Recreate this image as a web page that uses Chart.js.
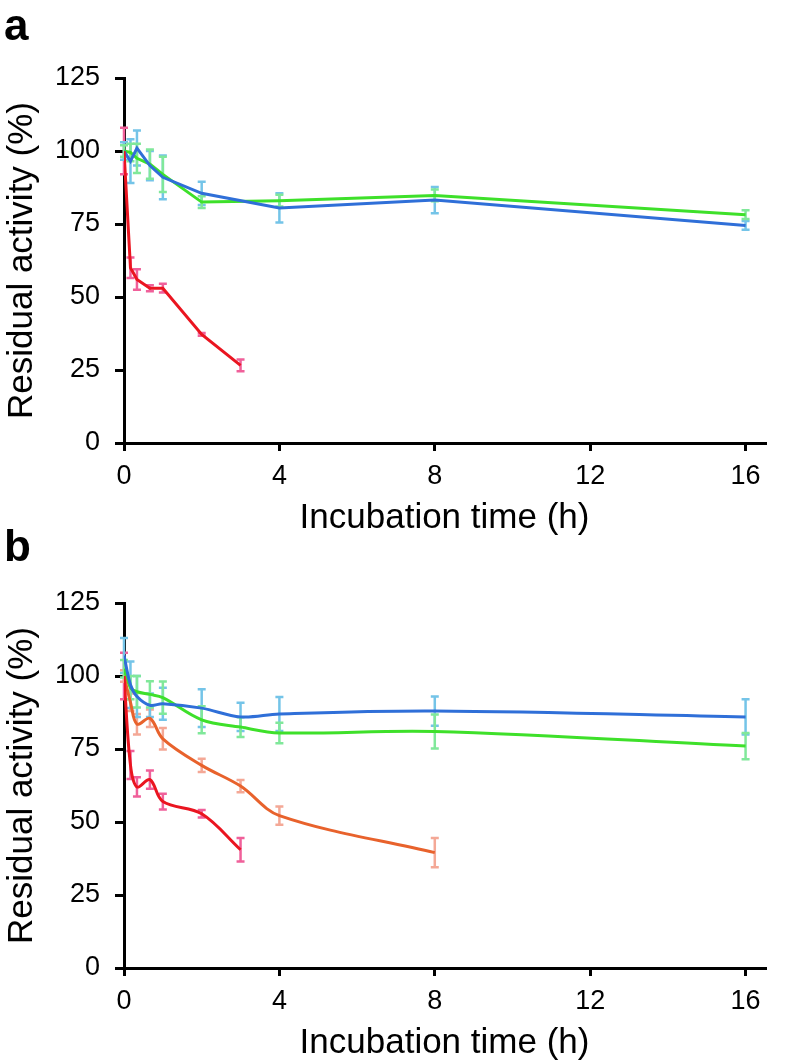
<!DOCTYPE html>
<html>
<head>
<meta charset="utf-8">
<script src="https://cdn.jsdelivr.net/npm/chart.js@4"></script>
<style>
  body { margin: 0; background: #fff; }
  #wrap { position: relative; width: 796px; height: 1064px; background: #fff; }
  .panel { position: absolute; left: 0; }
  .tag { position: absolute; left: 4px; font: bold 44px "Liberation Sans", Arial, sans-serif; color: #000; line-height: 1; }
</style>
</head>
<body>
<div id="wrap">
  <div class="panel" style="top:0"><canvas id="chartA" width="796" height="539"></canvas></div>
  <div class="panel" style="top:539px"><canvas id="chartB" width="796" height="525"></canvas></div>
  <div class="tag" style="top:3px">a</div>
  <div class="tag" style="top:524px">b</div>
</div>
<script>
// time points (h)
const timesA = [0, 1/6, 1/3, 2/3, 1, 2, 4, 8, 16];
const timesRed = [0, 1/6, 1/3, 2/3, 1, 2, 3];
const timesB = [0, 1/6, 1/3, 2/3, 1, 2, 3, 4, 8, 16];
const timesOrange = [0, 1/6, 1/3, 2/3, 1, 2, 3, 4, 8];

// panel a
const blueA = [100, 96.5, 101, 95, 91, 85.5, 80.5, 83.2, 74.5];
const blueAErr = [3, 7.5, 6, 5, 7.5, 4, 5, 4.5, 1.5];
const greenA = [100, 99.5, 97.5, 95.5, 92, 82.5, 83, 84.8, 78.2];
const greenAErr = [2, 3, 5, 5, 6, 2, 2, 2, 1.5];
const redA = [100, 60, 56, 53, 53, 37.2, 26.6];
const redAErr = [8, 3.5, 3.5, 1, 1.5, 0.5, 2];

// panel b
const blueB = [107, 97, 93, 90, 90.5, 89, 86, 87, 88, 86];
const blueBErr = [6, 8, 7, 4, 5.5, 6.5, 4.8, 5.8, 5, 6];
const greenB = [102.5, 96, 94.6, 93.7, 92.6, 85, 82.5, 80.5, 81, 76];
const greenBErr = [3, 4, 5.4, 4.5, 5.5, 4.6, 3.4, 3.5, 5.8, 4.5];
const orangeB = [100, 91, 83.5, 85.5, 78.5, 69.4, 62.3, 52.2, 39.5];
const orangeBErr = [2, 3, 3.5, 3, 3.7, 2.3, 2.1, 3.1, 5];
const redB = [100, 69.5, 62, 64.5, 57, 52.8, 40.5];
const redBErr = [8, 4.8, 3.3, 3.1, 2.7, 1.3, 4];

const yTicks = [0, 25, 50, 75, 100, 125];
const xTicks = [0, 4, 8, 12, 16];

const FONT = '"Liberation Sans", Arial, sans-serif';

function series(times, vals, errs, line, bar, tension) {
  return {
    data: times.map((t, i) => ({ x: t, y: vals[i] })),
    errors: errs,
    barColor: bar,
    borderColor: line,
    borderWidth: 3,
    pointRadius: 0,
    tension: tension,
    fill: false
  };
}

// error bars drawn through the chart's own scales
const errorBars = {
  id: 'errorBars',
  beforeDatasetsDraw(chart) {
    const ctx = chart.ctx;
    const xs = chart.scales.x, ys = chart.scales.y;
    chart.data.datasets.forEach(ds => {
      ctx.save();
      ctx.strokeStyle = ds.barColor;
      ctx.lineWidth = 2.5;
      ds.data.forEach((p, i) => {
        const e = ds.errors[i];
        const px = xs.getPixelForValue(p.x);
        const top = ys.getPixelForValue(p.y + e);
        const bot = ys.getPixelForValue(p.y - e);
        ctx.beginPath();
        ctx.moveTo(px, top); ctx.lineTo(px, bot);
        ctx.moveTo(px - 4, top); ctx.lineTo(px + 4, top);
        ctx.moveTo(px - 4, bot); ctx.lineTo(px + 4, bot);
        ctx.stroke();
      });
      ctx.restore();
    });
  }
};

function makeOptions(padTop) {
  return {
    responsive: false,
    animation: false,
    layout: { padding: { top: padTop, left: 1, right: 31, bottom: 0 } },
    plugins: { legend: { display: false }, tooltip: { enabled: false } },
    scales: {
      x: {
        type: 'linear',
        min: 0,
        max: 16.5,
        afterFit: s => { s.height = 96; },
        afterBuildTicks: s => { s.ticks = xTicks.map(v => ({ value: v })); },
        ticks: { font: { family: FONT, size: 27 }, color: '#000', padding: 9, maxRotation: 0 },
        grid: { drawOnChartArea: false, drawTicks: true, tickLength: 8, color: '#000', lineWidth: 3 },
        border: { display: true, color: '#000', width: 3 },
        title: { display: true, text: 'Incubation time (h)', font: { family: FONT, size: 35 }, color: '#000', padding: 0 }
      },
      y: {
        min: 0,
        max: 125,
        afterFit: s => { s.width = 123; },
        afterBuildTicks: s => { s.ticks = yTicks.map(v => ({ value: v })); },
        ticks: { font: { family: FONT, size: 27 }, color: '#000', padding: 15 },
        grid: { drawOnChartArea: false, drawTicks: true, tickLength: 9, color: '#000', lineWidth: 3 },
        border: { display: true, color: '#000', width: 3 },
        title: { display: true, text: 'Residual activity (%)', font: { family: FONT, size: 35 }, color: '#000', padding: 0 }
      }
    }
  };
}

new Chart(document.getElementById('chartA'), {
  type: 'line',
  data: {
    datasets: [
      series(timesRed, redA, redAErr, '#ea1520', '#f0609a', 0),
      series(timesA, blueA, blueAErr, '#2f6fd8', '#74c4e8', 0),
      series(timesA, greenA, greenAErr, '#3ee02a', '#80e89a', 0)
    ]
  },
  options: makeOptions(78),
  plugins: [errorBars]
});

new Chart(document.getElementById('chartB'), {
  type: 'line',
  data: {
    datasets: [
      series(timesRed, redB, redBErr, '#ea1520', '#f0609a', 0.35),
      series(timesOrange, orangeB, orangeBErr, '#e8622c', '#f4a896', 0.35),
      series(timesB, blueB, blueBErr, '#2f6fd8', '#74c4e8', 0.35),
      series(timesB, greenB, greenBErr, '#3ee02a', '#80e89a', 0.35)
    ]
  },
  options: makeOptions(64),
  plugins: [errorBars]
});
</script>
</body>
</html>
